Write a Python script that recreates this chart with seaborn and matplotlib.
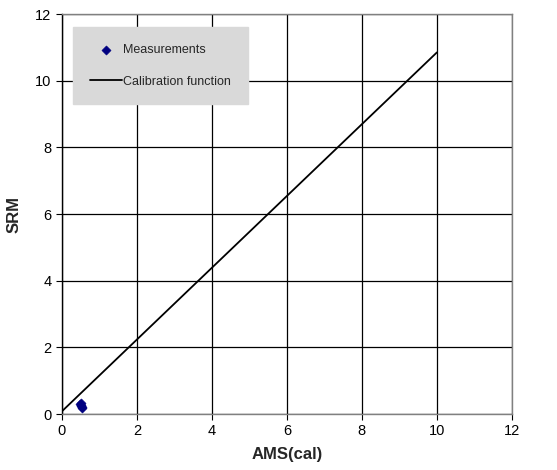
import matplotlib
matplotlib.use("Agg")
import matplotlib.pyplot as plt
import seaborn as sns
import pandas as pd

meas_x = [0.48, 0.50, 0.52, 0.54, 0.55, 0.50]
meas_y = [0.30, 0.27, 0.24, 0.21, 0.18, 0.32]
cal_x = [0.0, 10.0]
cal_y = [0.08, 10.85]
ticks = [0, 2, 4, 6, 8, 10, 12]

sns.set_style("white")
plt.rcParams['font.family'] = ['Liberation Sans', 'DejaVu Sans']

fig = plt.figure(figsize=(5.57, 4.70), dpi=100)
ax = fig.add_axes([0.111, 0.119, 0.808, 0.851])

meas = pd.DataFrame({"x": meas_x, "y": meas_y})
cal = pd.DataFrame({"x": cal_x, "y": cal_y})

sns.scatterplot(data=meas, x="x", y="y", marker="D", s=22, color="#000080",
                edgecolor="#000080", ax=ax, label="Measurements", zorder=3)
sns.lineplot(data=cal, x="x", y="y", color="black", linewidth=1.3, ax=ax,
             label="Calibration function", zorder=3)

ax.set_xlim(0, 12)
ax.set_ylim(0, 12)
ax.set_xticks(ticks)
ax.set_yticks(ticks)
ax.grid(True, color="black", linewidth=0.9)
ax.set_axisbelow(True)
for s in ["top", "right", "bottom"]:
    ax.spines[s].set_color("#808080")
ax.spines["left"].set_color("black")
for s in ax.spines.values():
    s.set_linewidth(1.0)
ax.tick_params(axis="both", labelsize=10.5, length=4, direction="out",
               colors="black", bottom=True, left=True)
ax.set_xlabel("AMS(cal)", fontsize=12, fontweight="bold", labelpad=6)
ax.set_ylabel("SRM", fontsize=12, fontweight="bold", labelpad=10)

leg = ax.legend(loc="upper left", bbox_to_anchor=(0.024, 0.967), fontsize=9,
                frameon=True, fancybox=False, facecolor="#d9d9d9",
                edgecolor="#d9d9d9", framealpha=1, borderpad=1.35,
                labelspacing=1.55, handlelength=2.6, handletextpad=0.1,
                borderaxespad=0)

fig.savefig("out.png", dpi=100)
